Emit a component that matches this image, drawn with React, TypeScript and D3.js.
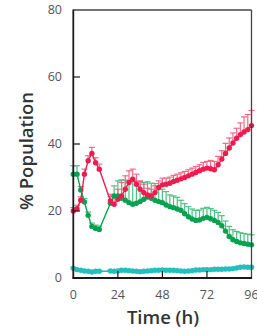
import React from "react";
import * as d3 from "d3";

const redT = [0,2,4,6,8,10,12,14,20,22,24,26,28,30,32,34,36,38,40,42,44,46,48,50,52,54,56,58,60,62,64,66,68,70,72,74,76,78,80,82,84,86,88,90,92,94,96];
const redV = [20,20.7,23.2,31,35,37.2,34.4,32.5,23,22,23.5,24.5,26.5,28.5,29.5,28,26.5,25.5,24.8,24.5,25.5,27,27.8,28,28.3,28.8,29.2,29.6,30,30.5,31,31.5,32,32.5,32.8,32.6,32.3,33.8,35.5,37.2,38.8,40.3,41.7,42.8,43.6,44.3,45.5];
const redE = [1,1,1,1.5,1.5,1.8,1.5,1.5,2,2.5,3,4,4,3.5,3,3,2.5,2.5,2,2,2,2,2,1.8,1.8,1.8,1.8,1.8,1.8,1.8,1.8,1.8,1.8,2,2,2.5,2.5,2.5,2.5,3,3,3,3,3.5,4.5,4.5,4.5];

const greenT = [0,2,4,6,8,10,12,14,20,22,24,26,28,30,32,34,36,38,40,42,44,46,48,50,52,54,56,58,60,62,64,66,68,70,72,74,76,78,80,82,84,86,88,90,92,94,96];
const greenV = [31,31,26.3,22.7,18.7,15.4,14.8,14.5,22.3,24.5,24.5,23.8,23.2,22.5,22,22.3,22.8,23.5,24.2,23.8,23.2,22.8,22.5,21.8,21.3,21,20.6,20.2,19.2,18.3,17.6,17.2,17.3,17.8,18.1,17.7,17.2,16.6,15.6,14,12.4,11.4,10.9,10.5,10.3,10.1,9.9];
const greenE = [2.5,2.5,1,1,1,1,1,1,2,3,4.5,5.5,6,6.5,7,6.5,6,5,4.5,4.5,5,4.5,4,4,3.5,3.5,3.5,3,3,3,3,3,3,3,3,3,3,3,3,3,3,3,3,3,3,3,3];

const cyanT = [0,2,4,6,8,10,12,14,20,22,24,26,28,30,32,34,36,38,40,42,44,46,48,50,52,54,56,58,60,62,64,66,68,70,72,74,76,78,80,82,84,86,88,90,92,94,96];
const cyanV = [2.9,2.5,2.3,2.1,2.0,1.8,2.0,2.0,2.1,2.0,2.1,2.3,2.3,2.2,2.1,2.0,1.9,2.0,2.1,2.2,2.3,2.3,2.4,2.3,2.3,2.3,2.2,2.1,2.0,2.1,2.2,2.4,2.4,2.5,2.5,2.5,2.6,2.6,2.6,2.7,2.7,2.8,3.0,3.2,3.3,3.2,3.2];
const cyanE = cyanV.map(() => 0.3);

const xTicks = [0, 24, 48, 72, 96];
const yTicks = [0, 20, 40, 60, 80];

const series = [
  { t: cyanT, v: cyanV, e: cyanE, color: "#22c0bd", errColor: "#7fd9d6" },
  { t: greenT, v: greenV, e: greenE, color: "#07a24f", errColor: "#4cc083" },
  { t: redT, v: redV, e: redE, color: "#ee1c4e", errColor: "#f06a88" },
];

export default function App() {
  const W = 257, H = 332;
  const x = d3.scaleLinear().domain([0, 96]).range([73.3, 251.5]);
  const y = d3.scaleLinear().domain([0, 80]).range([278, 10]);
  const line = d3.line<number>();
  const font = "'Open Sans', 'Noto Sans', sans-serif";
  return (
    <svg width={W} height={H} style={{ position: "absolute", left: 0, top: 0, background: "#fff" }}>
      {series.map((s, si) => (
        <g key={si}>
          {s.t.map((t, i) => (
            <g key={i} stroke={s.errColor} strokeWidth={1.2}>
              <line x1={x(t)} x2={x(t)} y1={y(s.v[i])} y2={y(s.v[i] + s.e[i])} />
              <line x1={x(t) - 3} x2={x(t) + 3} y1={y(s.v[i] + s.e[i])} y2={y(s.v[i] + s.e[i])} />
            </g>
          ))}
        </g>
      ))}
      {series.map((s, si) => (
        <g key={si}>
          <path
            d={d3.line<number>().x((t) => x(t)).y((_, i) => y(s.v[i]))(s.t) || ""}
            fill="none"
            stroke={s.color}
            strokeWidth={1.4}
          />
          {s.t.map((t, i) => (
            <circle key={i} cx={x(t)} cy={y(s.v[i])} r={2.7} fill={s.color} />
          ))}
        </g>
      ))}
      {/* frame */}
      <line x1={73.3} x2={251.5} y1={10} y2={10} stroke="#444" strokeWidth={1.3} />
      <line x1={251.5} x2={251.5} y1={10} y2={278} stroke="#444" strokeWidth={1.3} />
      <line x1={73.3} x2={73.3} y1={9.5} y2={278.8} stroke="#1a1a1a" strokeWidth={1.8} />
      <line x1={72.5} x2={252} y1={278} y2={278} stroke="#1a1a1a" strokeWidth={1.8} />
      {yTicks.slice(1, 4).map((v) => (
        <line key={v} x1={73.3} x2={80} y1={y(v)} y2={y(v)} stroke="#1a1a1a" strokeWidth={1.2} />
      ))}
      {xTicks.slice(1, 4).map((t) => (
        <line key={t} x1={x(t)} x2={x(t)} y1={278} y2={271} stroke="#1a1a1a" strokeWidth={1.2} />
      ))}
      {yTicks.map((v) => (
        <text key={v} x={62} y={y(v)} dy="0.35em" textAnchor="end" fontSize={12.5} fill="#555" fontFamily={font}>
          {v}
        </text>
      ))}
      {xTicks.map((t) => (
        <text key={t} x={x(t)} y={295} dy="0.35em" textAnchor="middle" fontSize={12.5} fill="#555" fontFamily={font}>
          {t}
        </text>
      ))}
      <text x={163} y={324} textAnchor="middle" fontSize={18.5} fontWeight={600} fill="#333" fontFamily={font}>
        Time (h)
      </text>
      <text
        transform={`translate(33,151) rotate(-90)`}
        textAnchor="middle"
        fontSize={18.5}
        fontWeight={600}
        fill="#333"
        fontFamily={font}
      >
        % Population
      </text>
    </svg>
  );
}
